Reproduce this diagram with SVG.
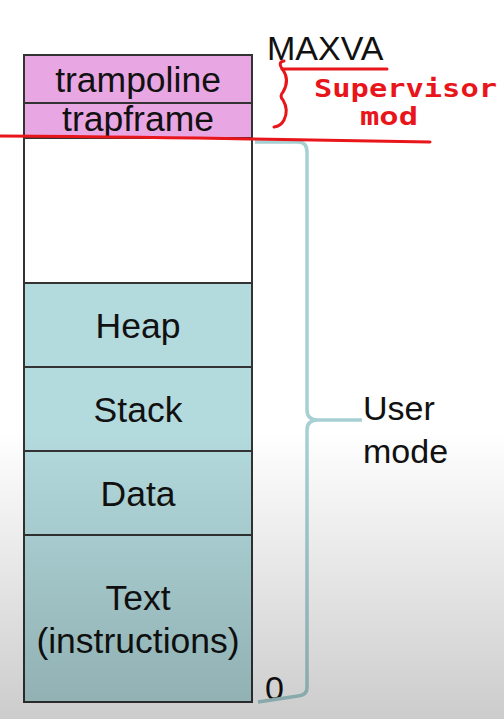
<svg xmlns="http://www.w3.org/2000/svg" width="504" height="719" viewBox="0 0 504 719">
<defs>
<linearGradient id="shade" x1="0" y1="0" x2="0" y2="1">
<stop offset="0" stop-color="#000" stop-opacity="0"/>
<stop offset="0.6" stop-color="#000" stop-opacity="0"/>
<stop offset="1" stop-color="#000" stop-opacity="0.2"/>
</linearGradient>
<style>
.cell{stroke:#333;stroke-width:2}
.pink{fill:#e8a6e2}
.teal{fill:#b3dadd}
.lbl{font-family:"Liberation Sans",Arial,sans-serif;font-size:35.5px;fill:#111;text-anchor:middle}
.side{font-family:"Liberation Sans",Arial,sans-serif;font-size:34px;fill:#111}
.ink{fill:none;stroke:#e8161b;stroke-width:3;stroke-linecap:round;stroke-linejoin:round}
.hand{font-family:"DejaVu Sans Mono","Liberation Mono",monospace;font-size:24px;fill:#e8161b;font-weight:bold}
.brace{fill:none;stroke:#a7d0d3;stroke-width:3.5;stroke-linejoin:round}
</style>
</defs>
<rect x="0" y="0" width="504" height="719" fill="#fff"/>
<g id="trampoline"><rect class="cell pink" x="24" y="55" width="228" height="48"/><text class="lbl" x="138" y="92">trampoline</text></g>
<g id="trapframe"><rect class="cell pink" x="24" y="103" width="228" height="35"/><text class="lbl" x="138" y="131">trapframe</text></g>
<g id="unused"><rect class="cell" fill="#fff" x="24" y="138" width="228" height="145"/></g>
<g id="heap"><rect class="cell teal" x="24" y="283" width="228" height="84"/><text class="lbl" x="138" y="338">Heap</text></g>
<g id="stack"><rect class="cell teal" x="24" y="367" width="228" height="84"/><text class="lbl" x="138" y="422">Stack</text></g>
<g id="data"><rect class="cell teal" x="24" y="451" width="228" height="84"/><text class="lbl" x="138" y="506">Data</text></g>
<g id="text"><rect class="cell teal" x="24" y="535" width="228" height="167"/><text class="lbl" x="138" y="610">Text</text><text class="lbl" x="138" y="653">(instructions)</text></g>
<g id="labels">
<text class="side" x="267" y="60" font-size="34">MAXVA</text>
<text class="side" x="363" y="420">User</text>
<text class="side" x="363" y="463">mode</text>
<text class="side" x="265" y="700">0</text>
</g>
<g id="connectors">
<path class="brace" d="M255,142 L298,142 Q307,142 307,152 L307,410 Q307,420 318,420 L362,420 M318,420 Q307,420 307,430 L307,688 Q307,695 298,696 L258,702"/>
</g>
<g id="annotation">
<path class="ink" d="M0,136 Q150,137 250,139 T430,142"/>
<path class="ink" d="M282,69 L387,69"/>
<path class="ink" d="M284,61 Q277,62 283,70 Q290,80 283,92 Q279,96 283,100 Q289,110 284,120 Q281,126 274,127"/>
<text class="hand" x="314" y="97" textLength="183" lengthAdjust="spacingAndGlyphs">Supervisor</text>
<text class="hand" x="360" y="125" textLength="58" lengthAdjust="spacingAndGlyphs">mod</text>
</g>
<rect x="0" y="0" width="504" height="719" fill="url(#shade)" pointer-events="none"/>
</svg>
